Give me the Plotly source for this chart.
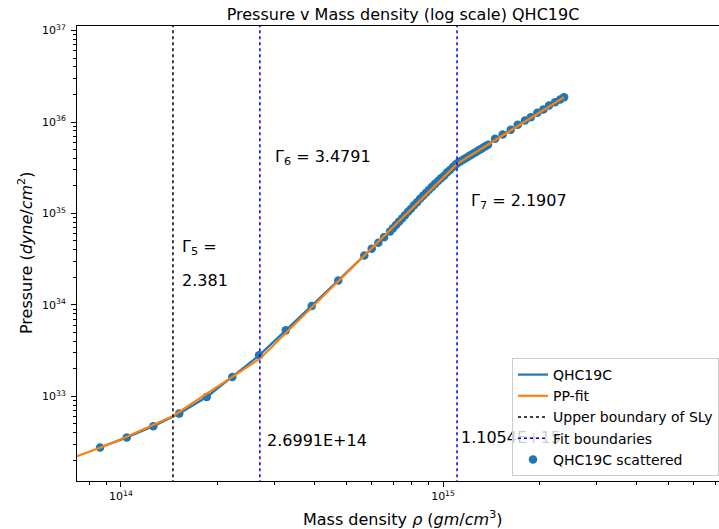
import plotly.graph_objects as go

# ---------------- data ----------------
rho_data = [8.61e13, 1.042e14, 1.260e14, 1.517e14, 1.846e14, 2.217e14, 2.684e14,
            3.248e14, 3.910e14, 4.729e14, 5.696e14, 6.006e14, 6.297e14, 6.559e14,
            6.845e14, 6.993e14, 7.145e14, 7.301e14, 7.459e14, 7.621e14, 7.786e14,
            7.955e14, 8.127e14, 8.305e14, 8.485e14, 8.669e14, 8.857e14, 9.049e14,
            9.244e14, 9.445e14, 9.650e14, 9.858e14, 1.0072e15, 1.029e15, 1.051e15,
            1.074e15, 1.097e15, 1.113e15, 1.133e15, 1.154e15, 1.175e15, 1.196e15,
            1.217e15, 1.239e15, 1.262e15, 1.284e15, 1.308e15, 1.331e15, 1.355e15,
            1.380e15, 1.451e15, 1.532e15, 1.623e15, 1.706e15, 1.797e15, 1.873e15,
            1.963e15, 2.049e15, 2.134e15, 2.227e15, 2.309e15, 2.376e15]
p_data = [2.75e32, 3.54e32, 4.70e32, 6.47e32, 9.82e32, 1.625e33, 2.806e33,
          5.264e33, 9.70e33, 1.853e34, 3.475e34, 4.115e34, 4.785e34, 5.508e34,
          6.357e34, 6.908e34, 7.487e34, 8.138e34, 8.818e34, 9.582e34, 1.041e35,
          1.128e35, 1.226e35, 1.329e35, 1.444e35, 1.561e35, 1.684e35, 1.816e35,
          1.953e35, 2.106e35, 2.266e35, 2.431e35, 2.582e35, 2.806e35, 2.988e35,
          3.223e35, 3.450e35, 3.583e35, 3.721e35, 3.864e35, 4.012e35, 4.166e35,
          4.326e35, 4.493e35, 4.666e35, 4.844e35, 5.030e35, 5.224e35, 5.425e35,
          5.648e35, 6.553e35, 7.302e35, 8.218e35, 9.320e35, 1.039e36, 1.129e36,
          1.261e36, 1.370e36, 1.515e36, 1.646e36, 1.762e36, 1.866e36]

fit_rho = [7.30e13, 8.61e13, 1.042e14, 1.260e14, 1.451e14, 2.6991e14, 1.1054e15, 2.376e15]
fit_p = [2.21e32, 2.74e32, 3.61e32, 4.86e32, 6.10e32, 2.58e33, 3.485e35, 1.865e36]

sly_boundary = 1.45e14
fit_boundaries = [2.6991e14, 1.1054e15]
gamma_labels = ["2.381", "3.4791", "2.1907"]
# anchor of the second boundary value label
label_rho = 1.137e15
label_p = 3.39e32

x_major = [1e14, 1e15]
x_major_text = ["10<sup>14</sup>", "10<sup>15</sup>"]
y_major = [1e33, 1e34, 1e35, 1e36, 1e37]
y_major_text = ["10<sup>33</sup>", "10<sup>34</sup>", "10<sup>35</sup>",
                "10<sup>36</sup>", "10<sup>37</sup>"]
x_minor = [8e13, 9e13] + [k * 1e14 for k in range(2, 10)] + [k * 1e15 for k in range(2, 9)]
y_minor = [k * 10.0 ** e for e in range(32, 37) for k in range(2, 10)]

BLUE = "#1f77b4"
ORANGE = "#ff7f0e"
FONT = "DejaVu Sans"

fig = go.Figure()

fig.add_trace(go.Scatter(x=rho_data, y=p_data, mode="markers", name="QHC19C scattered",
                         marker=dict(color=BLUE, size=8.5, line=dict(width=0)),
                         legendrank=5))
fig.add_trace(go.Scatter(x=rho_data, y=p_data, mode="lines", name="QHC19C",
                         line=dict(color=BLUE, width=2.2), legendrank=1))
fig.add_trace(go.Scatter(x=fit_rho, y=fit_p, mode="lines", name="PP-fit",
                         line=dict(color=ORANGE, width=2.2), legendrank=2))
fig.add_trace(go.Scatter(x=[sly_boundary, sly_boundary], y=[1e31, 1e38], mode="lines",
                         name="Upper boundary of SLy",
                         line=dict(color="black", width=1.5, dash="dot"), legendrank=3))
fb_x, fb_y = [], []
for b in fit_boundaries:
    fb_x += [b, b, None]
    fb_y += [1e31, 1e38, None]
fig.add_trace(go.Scatter(x=fb_x, y=fb_y, mode="lines", name="Fit boundaries",
                         line=dict(color="blue", width=1.5, dash="dot"), legendrank=4))
# boundary value label drawn beneath the legend (as in the reference)
fig.add_trace(go.Scatter(x=[label_rho], y=[label_p], mode="text",
                         text=["%.4E" % fit_boundaries[1]], textposition="middle right",
                         textfont=dict(family=FONT, size=16, color="black"),
                         showlegend=False, hoverinfo="skip"))

L, T, B = 77, 26, 48
W, H = 719, 529
PW = W - L
PH = H - T - B


def px(xp):
    return (xp - L) / PW


def py(yp):
    return (H - B - yp) / PH


ann = []
def add_text(text, xp, yp, size=16, anchor="left"):
    ann.append(dict(text=text, x=px(xp), y=py(yp), xref="paper", yref="paper",
                    xanchor=anchor, yanchor="middle", showarrow=False,
                    font=dict(family=FONT, size=size, color="black")))

add_text("Γ<sub>5</sub> =", 180, 247)
add_text(gamma_labels[0], 180, 280)
add_text("Γ<sub>6</sub> = " + gamma_labels[1], 273, 157)
add_text("Γ<sub>7</sub> = " + gamma_labels[2], 469, 202)
add_text("%.4E" % fit_boundaries[0], 265, 440)

# axis titles
ann.append(dict(text="Mass density <i>ρ</i> (<i>gm</i>/<i>cm</i><sup>3</sup>)",
                x=px(403), y=py(518), xref="paper", yref="paper",
                xanchor="center", yanchor="middle", showarrow=False,
                font=dict(family=FONT, size=16, color="black")))
ann.append(dict(text="Pressure (<i>dyne</i>/<i>cm</i><sup>2</sup>)",
                x=px(25), y=py(253), xref="paper", yref="paper", textangle=-90,
                xanchor="center", yanchor="middle", showarrow=False,
                font=dict(family=FONT, size=16, color="black")))

fig.update_layout(
    width=W, height=H,
    margin=dict(l=L, r=0, t=T, b=B, autoexpand=False),
    paper_bgcolor="white", plot_bgcolor="white",
    font=dict(family=FONT, color="black"),
    title=dict(text="Pressure v Mass density (log scale) QHC19C",
               x=403 / W, xref="container", xanchor="center",
               y=1 - 14 / H, yref="container", yanchor="middle",
               font=dict(family=FONT, size=16, color="black")),
    showlegend=True,
    legend=dict(x=px(512), y=py(358), xanchor="left", yanchor="top",
                bgcolor="rgba(255,255,255,0.8)", bordercolor="#cccccc", borderwidth=1,
                font=dict(family=FONT, size=14, color="black"),
                tracegroupgap=0, itemwidth=30),
    annotations=ann,
)

fig.update_xaxes(type="log", range=[13.8634, 15.857],
                 showgrid=False, zeroline=False,
                 showline=True, linecolor="black", linewidth=1, mirror=True,
                 ticks="outside", ticklen=5, tickwidth=1, tickcolor="black",
                 tickmode="array", tickvals=x_major, ticktext=x_major_text,
                 tickfont=dict(family=FONT, size=11, color="black"),
                 minor=dict(tickmode="array", tickvals=x_minor, ticks="outside",
                            ticklen=3, tickwidth=0.8, tickcolor="black", showgrid=False))
fig.update_yaxes(type="log", range=[32.074, 37.05],
                 showgrid=False, zeroline=False,
                 showline=True, linecolor="black", linewidth=1, mirror=False,
                 ticks="outside", ticklen=5, tickwidth=1, tickcolor="black",
                 tickmode="array", tickvals=y_major, ticktext=y_major_text,
                 tickfont=dict(family=FONT, size=11, color="black"),
                 ticklabelstandoff=3,
                 minor=dict(tickmode="array", tickvals=y_minor, ticks="outside",
                            ticklen=3, tickwidth=0.8, tickcolor="black", showgrid=False))

fig.write_html("out.html")
